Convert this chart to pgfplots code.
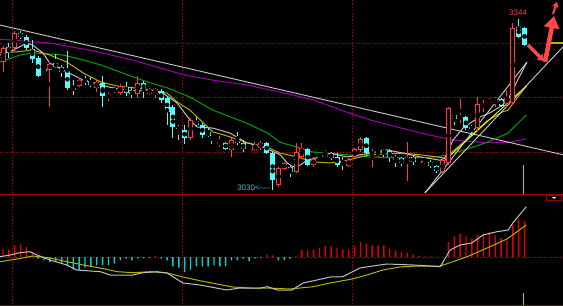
\documentclass[border=0pt]{standalone}
\usepackage{pgfplots}
\pgfplotsset{compat=1.18}
\usepackage{pgfplotstable}
\usepackage{fontspec}
\setmainfont{Liberation Sans}
\usetikzlibrary{arrows.meta}
\definecolor{upred}{HTML}{FF3C3C}
\definecolor{dncyan}{HTML}{54FCFC}
\definecolor{dojigray}{HTML}{C8C8C8}
\definecolor{gridred}{HTML}{9A0000}
\definecolor{sepred}{HTML}{A00000}
\definecolor{ma5}{HTML}{C0C0C0}
\definecolor{ma10}{HTML}{B8B000}
\definecolor{ma20}{HTML}{00A000}
\definecolor{ma60}{HTML}{A000A8}
\definecolor{trend}{HTML}{CCCCCC}
\definecolor{brightyel}{HTML}{F0F040}
\definecolor{barred}{HTML}{E00000}
\definecolor{barcyan}{HTML}{00D0D0}
\definecolor{arrowred}{HTML}{FF4848}
\definecolor{lbl}{HTML}{40C0C0}

\pgfplotstableread{
i o h l c
0 3265 3295 3247 3291
2 3291 3322 3284 3318
8 3251 3265 3183 3262
13 3221 3236 3219 3232
16 3218 3234 3210 3229
18 3199 3210 3194 3207
20 3208 3225 3205 3221
23 3207 3240 3199 3227
25 3207 3218 3205 3214
26 3207 3218 3199 3216
32 3126 3163 3122 3159
37 3115 3129 3109 3118
39 3104 3126 3091 3122
42 3100 3106 3098 3104
43 3104 3118 3102 3113
44 3107 3120 3104 3117
47 3040 3073 3036 3071
48 3069 3082 3067 3080
50 3063 3117 3062 3100
51 3091 3117 3089 3107
53 3076 3091 3073 3087
54 3091 3098 3089 3095
55 3091 3104 3091 3098
59 3074 3089 3073 3085
60 3091 3107 3087 3106
61 3104 3128 3100 3124
63 3096 3106 3073 3100
64 3098 3104 3091 3102
69 3082 3118 3047 3091
72 3082 3091 3078 3085
75 3063 3089 3060 3085
76 3080 3183 3076 3181
78 3163 3197 3153 3164
81 3144 3201 3139 3188
82 3183 3196 3174 3188
83 3190 3199 3188 3196
84 3192 3201 3183 3197
86 3190 3214 3183 3199
87 3190 3337 3186 3328
}\upc

\pgfplotstableread{
i o h l c
1 3293 3300 3273 3284
3 3318 3322 3307 3311
4 3311 3315 3287 3291
5 3289 3306 3263 3271
6 3273 3276 3238 3240
7 3252 3256 3247 3249
9 3263 3280 3254 3256
10 3256 3260 3238 3247
11 3249 3285 3214 3218
12 3218 3232 3205 3214
14 3232 3240 3223 3229
15 3229 3238 3219 3223
17 3227 3240 3183 3203
19 3216 3219 3208 3212
21 3219 3229 3203 3208
22 3210 3219 3199 3207
24 3227 3230 3199 3214
27 3212 3216 3190 3196
28 3199 3203 3150 3174
29 3183 3186 3126 3146
31 3140 3150 3115 3126
33 3157 3164 3146 3150
34 3150 3153 3126 3131
35 3137 3144 3128 3129
36 3120 3122 3113 3115
38 3117 3118 3104 3106
40 3124 3137 3113 3117
41 3117 3118 3100 3106
45 3117 3118 3096 3098
46 3098 3100 3030 3049
49 3073 3074 3054 3063
52 3106 3107 3074 3076
56 3098 3100 3085 3089
57 3091 3098 3073 3076
62 3126 3128 3095 3098
65 3104 3106 3091 3098
66 3102 3106 3082 3091
67 3091 3095 3073 3085
68 3089 3091 3074 3080
70 3091 3095 3076 3082
73 3082 3085 3071 3074
74 3074 3076 3062 3065
77 3168 3168 3150 3161
79 3164 3166 3140 3144
80 3146 3150 3131 3142
85 3197 3199 3183 3185
88 3330 3344 3309 3311
89 3328 3330 3295 3296
}\dnc

\pgfplotstableread{
i o h l c
30 3144 3150 3122 3144
58 3082 3091 3067 3082
71 3082 3085 3076 3082
}\doji

\pgfplotstableread{
i v
0 4.2
1 3.7
2 5.8
3 6.3
4 5
5 2.5
26 0.5
45 1.2
46 0.8
50 0.8
51 3.7
52 3.3
53 3.7
54 4.7
55 5.5
56 5.3
57 4.7
58 3.7
59 3.7
60 5.3
61 7.5
62 6.7
63 5.8
64 5.8
65 5.8
66 4.2
67 3.3
68 2.5
69 2.2
70 1.3
71 0.7
72 0.3
73 0.2
74 0.2
75 0.2
76 7.5
77 10.3
78 11.7
79 10.5
80 9.2
81 11.2
82 11.7
83 12.5
84 10.8
85 9.5
86 8.3
87 15.8
88 18.7
89 18
}\macdpos

\pgfplotstableread{
i v
6 -0.8
7 -1.7
8 -2.5
9 -2.5
10 -3.3
11 -4.7
12 -6.3
13 -6.7
14 -5.3
15 -4.7
16 -4.2
17 -4.2
18 -4.2
19 -3.3
20 -1.7
21 -0.8
22 -1.7
23 -0.8
24 -0.5
25 -0.5
27 -0.8
28 -1.7
29 -4.7
30 -5.3
31 -7.5
32 -6.3
33 -4.7
34 -4.7
35 -4.7
36 -4.2
37 -4.7
38 -4.7
39 -1.7
40 -1.7
41 -0.8
42 -2
43 -0.8
44 -0.5
47 -1.7
48 -1.7
49 -0.8
}\macdneg

\pgfplotsset{
  bar/.style 2 args={only marks, mark=none, forget plot,
    error bars/.cd, y dir=both, y explicit, error mark=none,
    error bar style={line width=#2, draw=#1, solid}},
  panel/.style={scale only axis, width=563bp, xmin=-0.512, xmax=95.56,
    axis line style={draw=none}, ticks=none, clip=true},
}

\begin{document}
\begin{tikzpicture}
\fill[black] (0,0) rectangle (563bp,306bp);

% ---------- price panel ----------
\begin{axis}[panel, at={(0,111bp)}, anchor=south west, height=195bp,
  ymin=3021.2, ymax=3379]
  \draw[gridred, line width=0.8bp, dash pattern=on 1.6bp off 1.6bp]
    (axis cs:-1,3300) -- (axis cs:96,3300)
    (axis cs:-1,3200) -- (axis cs:96,3200)
    (axis cs:-1,3100) -- (axis cs:96,3100)
    (axis cs:1.54,3000) -- (axis cs:1.54,3400)
    (axis cs:30.55,3000) -- (axis cs:30.55,3400)
    (axis cs:59.56,3000) -- (axis cs:59.56,3400);

  % moving averages and trend lines
  \addplot[ma60, line width=1bp] coordinates {(-0.5,3307) (8,3300) (15.7,3285) (22,3269) (31.1,3241) (35.8,3232) (41.6,3223) (47.3,3210) (52.9,3196) (58.7,3173) (62.6,3159) (71.2,3135) (76.8,3122) (82.6,3117) (86.5,3118) (89.3,3124)};
  \addplot[trend, line width=0.9bp] coordinates {(-0.51,3333) (95.56,3095)};
  \addplot[ma20, line width=1bp] coordinates {(-0.5,3265) (2.9,3278) (5.1,3282) (8,3280) (10.2,3278) (13.7,3269) (16.6,3260) (22.2,3238) (25.1,3227) (28,3218) (31.9,3201) (35.8,3177) (41.6,3153) (45.1,3135) (47.3,3118) (50.2,3109) (52.9,3100) (58.7,3095) (62.6,3091) (68.3,3089) (74.1,3091) (76.8,3098) (79.7,3107) (82.6,3118) (86.2,3135) (89.3,3168)};
  \addplot[ma10, line width=1bp] coordinates {(-0.5,3282) (2.4,3284) (5.1,3287) (8,3278) (10.9,3265) (13.7,3245) (16.6,3229) (19.5,3221) (22.2,3218) (25.1,3214) (28,3208) (29.7,3192) (31.9,3177) (35.8,3137) (38.7,3128) (41.6,3117) (45.1,3109) (47.3,3098) (50.2,3091) (52.9,3082) (55.8,3080) (58.7,3085) (62.6,3095) (68.3,3098) (71.2,3095) (74.1,3091) (75.4,3089) (79.7,3128) (82.6,3157) (85.3,3174) (86.2,3177) (87.7,3199) (89.3,3221)};
  \addplot[ma5, line width=1bp] coordinates {(-0.5,3278) (1.7,3287) (4.1,3300) (5.1,3296) (6.8,3282) (8,3263) (10.9,3247) (13.7,3232) (16.6,3223) (19.5,3216) (22.2,3212) (25.1,3214) (27.3,3208) (29.7,3190) (31.9,3159) (33.1,3146) (35.8,3144) (38.7,3135) (41.6,3117) (44.4,3109) (47.3,3095) (48.5,3080) (49.5,3073) (50.7,3076) (51.9,3085) (54.1,3091) (55.8,3098) (58.7,3091) (62.6,3098) (65.5,3104) (68.3,3098) (71.2,3091) (74.6,3085) (75.4,3089) (76.8,3122) (78.5,3144) (79.7,3153) (81.1,3163) (83.1,3172) (84.8,3183) (86.2,3196) (87.4,3223) (89.4,3265)};
  \addplot[trend, line width=0.9bp] coordinates {(72.0,3025) (95.56,3293)};
  \addplot[trend, line width=0.9bp] coordinates {(72.0,3025) (89.4,3265)};
  \addplot[brightyel, line width=0.9bp] coordinates {(75.4,3085) (89.3,3221)};

  % candles: down (cyan, filled)
  \addplot[bar={dncyan}{1bp}] table[x=i, y expr={(\thisrow{h}+\thisrow{l})/2}, y error expr={(\thisrow{h}-\thisrow{l})/2}] {\dnc};
  \addplot[bar={dncyan}{5bp}] table[x=i, y expr={(\thisrow{o}+\thisrow{c})/2}, y error expr={max(abs(\thisrow{o}-\thisrow{c})/2,0.9)}] {\dnc};
  % doji
  \addplot[bar={dojigray}{1bp}] table[x=i, y expr={(\thisrow{h}+\thisrow{l})/2}, y error expr={(\thisrow{h}-\thisrow{l})/2}] {\doji};
  \addplot[bar={dojigray}{5bp}] table[x=i, y expr={(\thisrow{o}+\thisrow{c})/2}, y error expr={0.9}] {\doji};
  % candles: up (red, hollow)
  \addplot[bar={upred}{1bp}] table[x=i, y expr={(\thisrow{h}+\thisrow{l})/2}, y error expr={(\thisrow{h}-\thisrow{l})/2}] {\upc};
  \addplot[bar={upred}{5bp}] table[x=i, y expr={(\thisrow{o}+\thisrow{c})/2}, y error expr={max(abs(\thisrow{c}-\thisrow{o})/2,0.9)}] {\upc};
  \addplot[bar={black}{3bp}] table[x=i, y expr={(\thisrow{o}+\thisrow{c})/2}, y error expr={max(abs(\thisrow{c}-\thisrow{o})/2-1.8,0)}] {\upc};

  % markers and labels
  \draw[ma10, line width=1.3bp] (axis cs:92.8,3300) -- (axis cs:96,3300);
  \draw[ma10!80!yellow, line width=1bp] (axis cs:88.74,3076) -- (axis cs:88.74,3015);
  \node[upred, font=\fontsize{8}{8}\selectfont, inner sep=0pt] at (axis cs:87.9,3355) {3344};
  \node[lbl, font=\fontsize{8}{8}\selectfont, inner sep=0pt] at (axis cs:42.8,3035) {3030<----};
\end{axis}

% ---------- MACD panel ----------
\begin{axis}[panel, at={(0,0)}, anchor=south west, height=111bp,
  ymin=-24.5, ymax=31]
  \draw[gridred, line width=0.8bp, dash pattern=on 1.6bp off 1.6bp]
    (axis cs:-1,0) -- (axis cs:96,0)
    (axis cs:1.54,-30) -- (axis cs:1.54,40)
    (axis cs:30.55,-30) -- (axis cs:30.55,40)
    (axis cs:59.56,-30) -- (axis cs:59.56,40);
  \addplot[ybar, bar width=1.4bp, fill=barred, draw=none, bar shift=0pt] table[x=i, y=v] {\macdpos};
  \addplot[ybar, bar width=1.4bp, fill=barcyan, draw=none, bar shift=0pt] table[x=i, y=v] {\macdneg};
  \addplot[ma10, line width=1bp] coordinates {(-0.5,-2.35) (2.4,-1) (5.1,0.5) (8,-0.5) (10.9,-2.35) (13.7,-4) (16.6,-5.5) (19.5,-7.35) (22.2,-7.85) (25.1,-7.35) (28,-8) (30.7,-10) (33.6,-11.85) (36.5,-13.5) (39.2,-15) (42.2,-15.5) (45.1,-15.5) (49,-16) (52.9,-14.85) (55.8,-13) (59.6,-11) (62.1,-9) (64.8,-6.5) (67.7,-5) (70.6,-4.5) (74.6,-4.5) (76.8,-2.35) (79.2,0.15) (82.6,4.5) (86,9) (89.3,16)};
  \addplot[ma5, line width=1bp] coordinates {(-0.5,0.15) (1.2,1) (2.9,2.15) (4.6,2.65) (5.8,1) (8,-1.5) (10.9,-4) (12.6,-6.5) (16.6,-7.35) (18.3,-9) (22.2,-9) (23.9,-7.85) (26.3,-7.35) (28,-8) (30.7,-13) (33.6,-14) (38.2,-16.5) (40.4,-15.5) (43.9,-15.5) (45.1,-14.85) (46.8,-16.5) (49.3,-16.5) (51.2,-13) (53.6,-11.5) (55.8,-10) (58,-9.85) (60.9,-5.5) (63.1,-4.5) (65.5,-3.5) (70,-4) (72.9,-4.5) (74.6,-4.85) (76.3,3.5) (78,6) (80,7) (81.9,11) (84.3,12.65) (86.2,13.5) (87,17) (89.3,25.15)};
  \draw[ma10!80!yellow, line width=1bp] (axis cs:88.74,-18) -- (axis cs:88.74,-26);
  \draw[sepred, line width=0.8bp] (axis cs:92.8,30.6) rectangle (axis cs:95.3,28.2);
  \fill[white] (axis cs:93.7,29.9) -- (axis cs:94.4,29.9) -- (axis cs:94.05,29.1) -- cycle;
\end{axis}

% separators
\draw[sepred, line width=1bp] (0,111bp) -- (563bp,111bp);
\draw[sepred, line width=1bp] (0,1bp) -- (563bp,1bp);

% red annotation arrows
\draw[arrowred, line width=3.5bp, -{Triangle[width=8bp,length=6bp]}] (528bp,261bp) -- (544bp,245bp);
\draw[arrowred, line width=4.5bp, -{Triangle[width=15bp,length=12bp]}] (545bp,244bp) -- (554bp,290bp);
\draw[arrowred, line width=2bp, -{Triangle[width=6bp,length=5bp]}] (553bp,292bp) -- (557bp,304bp);

\pgfresetboundingbox
\path[use as bounding box] (0,0) rectangle (563bp,306bp);
\end{tikzpicture}
\end{document}
